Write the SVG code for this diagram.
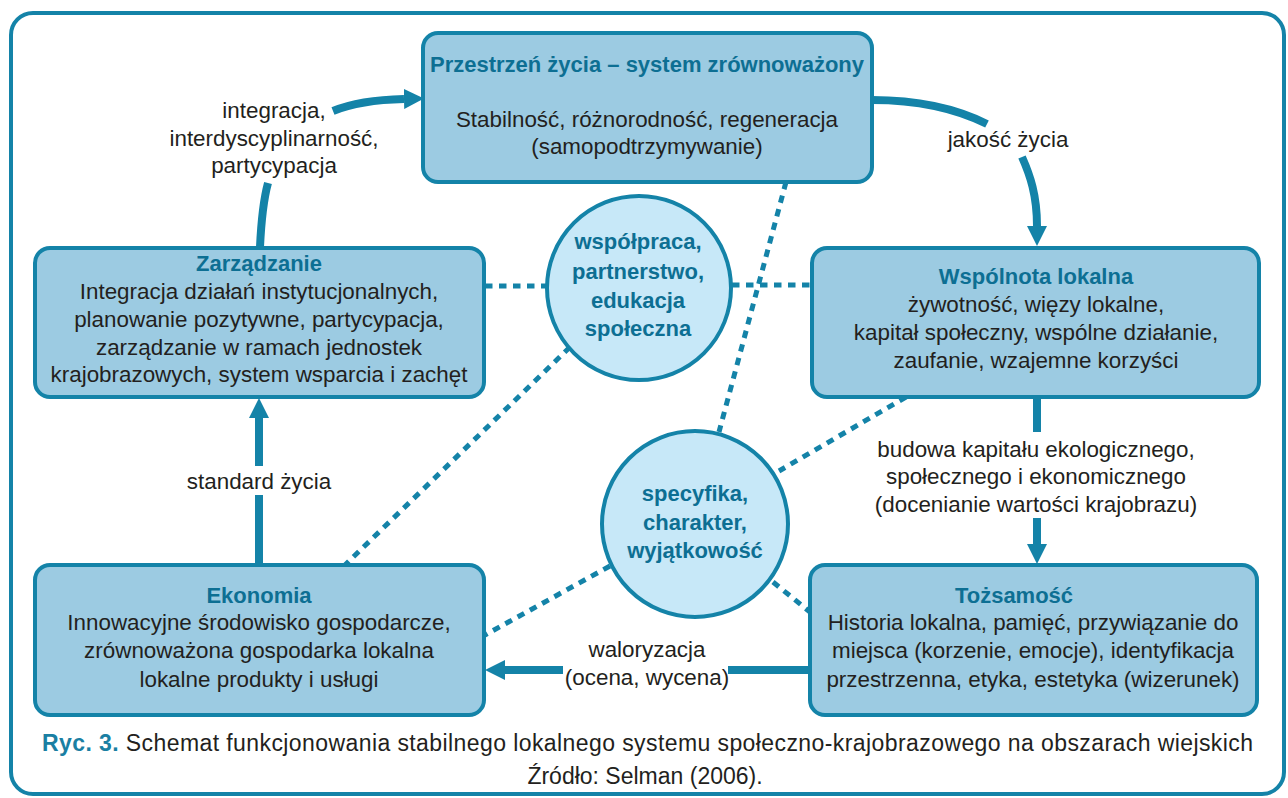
<svg xmlns="http://www.w3.org/2000/svg" width="1288" height="798" viewBox="0 0 1288 798">
<defs>
<style>
.frame{fill:#fff;stroke:#1483a8;stroke-width:4}
.box{fill:#9ccbe2;stroke:#1483a8;stroke-width:4}
.circ{fill:#c7e8f8;stroke:#1483a8;stroke-width:4}
.arr{fill:none;stroke:#1483a8;stroke-width:8}
.dot{fill:none;stroke:#1483a8;stroke-width:5;stroke-dasharray:7.5 6.5}
text{font-family:"Liberation Sans",Arial,sans-serif;font-size:22.4px;fill:#231f20;text-anchor:middle}
.t{font-weight:bold;fill:#0d6f93;font-size:22px}
.c{font-weight:bold;fill:#0d6f93;font-size:22px}
</style>
<marker id="ah" viewBox="0 0 20 20" markerWidth="20" markerHeight="20" markerUnits="userSpaceOnUse" refX="0" refY="10" orient="auto">
<path d="M0,0 L20,10 L0,20 z" fill="#1483a8"/>
</marker>
</defs>
<rect class="frame" x="11" y="13" width="1273" height="781" rx="22"/>
<g id="connectors">
<line class="dot" x1="485" y1="286" x2="547" y2="286"/>
<line class="dot" x1="732" y1="285" x2="812" y2="285"/>
<line class="dot" x1="786" y1="182" x2="719" y2="432"/>
<line class="dot" x1="570" y1="347" x2="345" y2="565"/>
<line class="dot" x1="906" y1="397" x2="779" y2="471"/>
<line class="dot" x1="610" y1="566" x2="485" y2="635"/>
<line class="dot" x1="773" y1="582" x2="810" y2="612"/>
<path class="arr" d="M260,247 Q262,205 268,183"/>
<path class="arr" d="M333,111 Q360,100 404,99" marker-end="url(#ah)"/>
<text x="274" y="118">integracja,</text>
<text x="274" y="146">interdyscyplinarność,</text>
<text x="274" y="173">partycypacja</text>
<path class="arr" d="M872,100 C915,100 955,108 987,124"/>
<path class="arr" d="M1022,157 C1030,175 1037,195 1037,226" marker-end="url(#ah)"/>
<text x="1008" y="147">jakość życia</text>
<line class="arr" x1="1037" y1="397" x2="1037" y2="432"/>
<line class="arr" x1="1037" y1="518" x2="1037" y2="544" marker-end="url(#ah)"/>
<text x="1036" y="457">budowa kapitału ekologicznego,</text>
<text x="1036" y="484">społecznego i ekonomicznego</text>
<text x="1036" y="512">(docenianie wartości krajobrazu)</text>
<line class="arr" x1="812" y1="670" x2="728" y2="670"/>
<line class="arr" x1="563" y1="670" x2="505" y2="670" marker-end="url(#ah)"/>
<text x="647" y="657">waloryzacja</text>
<text x="647" y="685">(ocena, wycena)</text>
<line class="arr" x1="259" y1="565" x2="259" y2="495"/>
<line class="arr" x1="259" y1="466" x2="259" y2="418" marker-end="url(#ah)"/>
<text x="259" y="489">standard życia</text>
</g>
<g id="przestrzen">
<rect class="box" x="423" y="33" width="449" height="149" rx="15"/>
<text class="t" x="647" y="72">Przestrzeń życia – system zrównoważony</text>
<text x="647" y="127">Stabilność, różnorodność, regeneracja</text>
<text x="647" y="154">(samopodtrzymywanie)</text>
</g>
<g id="zarzadzanie">
<rect class="box" x="35" y="248" width="449" height="149" rx="15"/>
<text class="t" x="259" y="271">Zarządzanie</text>
<text x="259" y="299">Integracja działań instytucjonalnych,</text>
<text x="259" y="327">planowanie pozytywne, partycypacja,</text>
<text x="259" y="355">zarządzanie w ramach jednostek</text>
<text x="259" y="382">krajobrazowych, system wsparcia i zachęt</text>
</g>
<g id="wspolnota">
<rect class="box" x="812" y="248" width="447" height="149" rx="15"/>
<text class="t" x="1036" y="284">Wspólnota lokalna</text>
<text x="1036" y="312">żywotność, więzy lokalne,</text>
<text x="1036" y="340">kapitał społeczny, wspólne działanie,</text>
<text x="1036" y="368">zaufanie, wzajemne korzyści</text>
</g>
<g id="ekonomia">
<rect class="box" x="35" y="565" width="449" height="150" rx="15"/>
<text class="t" x="259" y="603">Ekonomia</text>
<text x="259" y="630">Innowacyjne środowisko gospodarcze,</text>
<text x="259" y="658">zrównoważona gospodarka lokalna</text>
<text x="259" y="687">lokalne produkty i usługi</text>
</g>
<g id="tozsamosc">
<rect class="box" x="810" y="565" width="447" height="150" rx="15"/>
<text class="t" x="1014" y="603">Tożsamość</text>
<text x="1033" y="630">Historia lokalna, pamięć, przywiązanie do</text>
<text x="1033" y="658">miejsca (korzenie, emocje), identyfikacja</text>
<text x="1033" y="687">przestrzenna, etyka, estetyka (wizerunek)</text>
</g>
<g id="wspolpraca">
<circle class="circ" cx="639" cy="288" r="92"/>
<text class="c" x="638" y="249">współpraca,</text>
<text class="c" x="638" y="279">partnerstwo,</text>
<text class="c" x="638" y="308">edukacja</text>
<text class="c" x="638" y="336">społeczna</text>
</g>
<g id="specyfika">
<circle class="circ" cx="695" cy="524" r="93"/>
<text class="c" x="695" y="501">specyfika,</text>
<text class="c" x="695" y="530">charakter,</text>
<text class="c" x="695" y="558">wyjątkowość</text>
</g>
<g id="caption">
<text x="42" y="751" textLength="1211" style="text-anchor:start;font-size:23px"><tspan style="font-weight:bold;fill:#1a7fa3">Ryc. 3.</tspan> Schemat funkcjonowania stabilnego lokalnego systemu społeczno-krajobrazowego na obszarach wiejskich</text>
<text x="645" y="784" style="font-size:23px">Źródło: Selman (2006).</text>
</g>
</svg>
